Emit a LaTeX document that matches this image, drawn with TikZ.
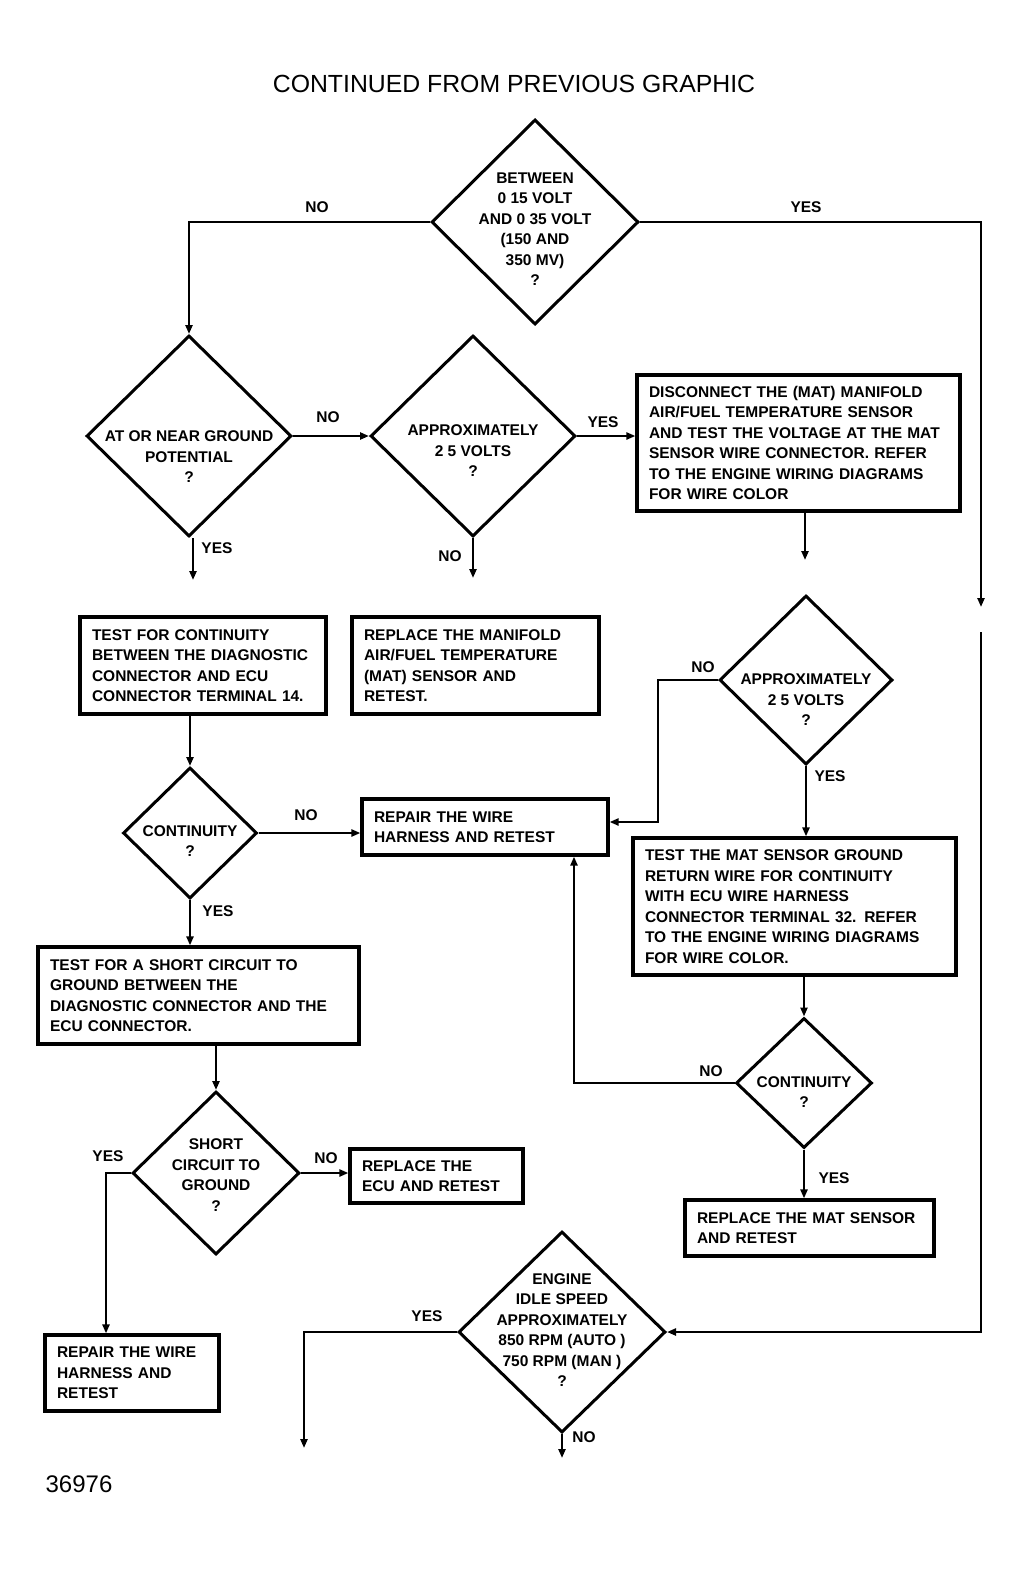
\documentclass[tikz,border=0pt]{standalone}
\usepackage{fontspec}
\setmainfont{Liberation Sans}
\usetikzlibrary{shapes.geometric,arrows.meta}
\newcommand{\flowtext}{\bfseries\fontsize{15.5}{20.5}\selectfont}
\tikzset{
  dia/.style={draw,shape=diamond,line width=3pt,inner sep=0pt},
  dtext/.style={align=center,font=\flowtext,inner sep=0pt},
  box/.style={draw,line width=3.2pt,align=left,font=\flowtext,inner xsep=12pt},
  lbl/.style={font=\flowtext},
  arr/.style={line width=2.8pt,-{Triangle[length=9pt,width=7pt]}}
}
\begin{document}
\begin{tikzpicture}[x=1pt,y=-1pt]
    \useasboundingbox (0,0) rectangle (1026,1576);
    \node[font=\fontsize{24.8}{28}\selectfont] (title) at (514,84) {CONTINUED FROM PREVIOUS GRAPHIC};
    \node[font=\fontsize{24}{28}\selectfont] (fig) at (79,1484) {36976};
    % decisions
    \node[dia,minimum width=207pt,minimum height=205pt] (volt) at (535,222) {};
    \node[dia,minimum width=205pt,minimum height=201pt] (ground) at (189,436) {};
    \node[dia,minimum width=205pt,minimum height=201pt] (approxa) at (473,436) {};
    \node[dia,minimum width=134pt,minimum height=131pt] (conta) at (190,833) {};
    \node[dia,minimum width=167pt,minimum height=163pt] (short) at (216,1173) {};
    \node[dia,minimum width=173pt,minimum height=169pt] (approxb) at (806,680) {};
    \node[dia,minimum width=136pt,minimum height=130pt] (contb) at (804,1083) {};
    \node[dia,minimum width=207pt,minimum height=201pt] (idle) at (562,1332) {};
    \node[dtext] at ([yshift=-7pt]volt) {BETWEEN\\0 15 VOLT\\AND 0 35 VOLT\\(150 AND\\350 MV)\\?};
    \node[dtext] at ([yshift=-21pt]ground) {AT OR NEAR GROUND\\POTENTIAL\\?};
    \node[dtext] at ([yshift=-15pt]approxa) {APPROXIMATELY\\2 5 VOLTS\\?};
    \node[dtext] at ([yshift=-8pt]conta) {CONTINUITY\\?};
    \node[dtext] at ([yshift=-2pt]short) {SHORT\\CIRCUIT TO\\GROUND\\?};
    \node[dtext] at ([yshift=-20pt]approxb) {APPROXIMATELY\\2 5 VOLTS\\?};
    \node[dtext] at ([yshift=-9pt]contb) {CONTINUITY\\?};
    \node[dtext] at ([yshift=2pt]idle) {ENGINE\\IDLE SPEED\\APPROXIMATELY\\850 RPM (AUTO )\\750 RPM (MAN )\\?};
    % actions
    \node[box,text width=299pt,minimum height=136pt] (disc) at (798.5,443)
      {DISCONNECT THE (MAT) MANIFOLD\\AIR/FUEL TEMPERATURE SENSOR\\AND TEST THE VOLTAGE AT THE MAT\\SENSOR WIRE CONNECTOR. REFER\\TO THE ENGINE WIRING DIAGRAMS\\FOR WIRE COLOR};
    \node[box,text width=222pt,minimum height=97pt] (test) at (203,665.5)
      {TEST FOR CONTINUITY\\BETWEEN THE DIAGNOSTIC\\CONNECTOR AND ECU\\CONNECTOR TERMINAL 14.};
    \node[box,text width=223pt,minimum height=97pt] (replmat) at (475.5,665.5)
      {REPLACE THE MANIFOLD\\AIR/FUEL TEMPERATURE\\(MAT) SENSOR AND\\RETEST.};
    \node[box,text width=222pt,minimum height=56pt] (repair) at (485,827)
      {REPAIR THE WIRE\\HARNESS AND RETEST};
    \node[box,text width=297pt,minimum height=97pt] (shortt) at (198.5,995.5)
      {TEST FOR A SHORT CIRCUIT TO\\GROUND BETWEEN THE\\DIAGNOSTIC CONNECTOR AND THE\\ECU CONNECTOR.};
    \node[box,text width=149pt,minimum height=54pt] (ecu) at (436.5,1176)
      {REPLACE THE\\ECU AND RETEST};
    \node[box,text width=150pt,minimum height=76pt] (repairb) at (132,1373)
      {REPAIR THE WIRE\\HARNESS AND\\RETEST};
    \node[box,text width=299pt,minimum height=137pt] (mat) at (794.5,906.5)
      {TEST THE MAT SENSOR GROUND\\RETURN WIRE FOR CONTINUITY\\WITH ECU WIRE HARNESS\\CONNECTOR TERMINAL 32. REFER\\TO THE ENGINE WIRING DIAGRAMS\\FOR WIRE COLOR.};
    \node[box,text width=225pt,minimum height=56pt] (sensor) at (809.5,1228)
      {REPLACE THE MAT SENSOR\\AND RETEST};
    % free ends
    \coordinate (offtop) at (981,607);
    \coordinate (onbot) at (981,632);
    \coordinate (discend) at (805,560);
    \coordinate (groundend) at (193,580);
    \coordinate (approxend) at (472,578);
    \coordinate (yesend) at (304,1448);
    \coordinate (noend) at (564,1458);
    % connectors
    \draw[arr] (volt.west) -| (ground.north);
    \draw[arr] (volt.east) -| (offtop);
    \draw[arr] (onbot) |- (idle.east);
    \draw[arr] (ground.east) -- (approxa.west);
    \draw[arr] (approxa.east) -- (approxa.east -| disc.west);
    \draw[arr] (discend |- disc.south) -- (discend);
    \draw[arr] (groundend |- ground.south) -- (groundend);
    \draw[arr] (approxa.south) -- (approxa.south |- approxend);
    \draw[arr] (conta.north |- test.south) -- (conta.north);
    \draw[arr] (conta.east) -- (conta.east -| repair.west);
    \draw[arr] (conta.south) -- (conta.south |- shortt.north);
    \draw[arr] (short.north |- shortt.south) -- (short.north);
    \draw[arr] (short.east) -- (short.east -| ecu.west);
    \draw[arr] (short.west) -| ([xshift=-26pt]repairb.north);
    \draw[arr] (approxb.west) -- ++(-60,0) |- ([yshift=5pt]repair.east);
    \draw[arr] (approxb.south) -- (approxb.south |- mat.north);
    \draw[arr] (contb.north |- mat.south) -- (contb.north);
    \draw[arr] (contb.west) -| ([xshift=89pt]repair.south);
    \draw[arr] (contb.south) -- (contb.south |- sensor.north);
    \draw[arr] (idle.west) -| (yesend);
    \draw[arr] (idle.south) -- (idle.south |- noend);
    % labels
    \path (317,207) node[lbl]{NO} (806,207) node[lbl]{YES};
    \path (328,417) node[lbl]{NO} (603,422) node[lbl]{YES};
    \path (217,548) node[lbl]{YES} (450,556) node[lbl]{NO};
    \path (306,815) node[lbl]{NO} (218,911) node[lbl]{YES};
    \path (703,667) node[lbl]{NO} (830,776) node[lbl]{YES};
    \path (326,1158) node[lbl]{NO} (108,1156) node[lbl]{YES};
    \path (711,1071) node[lbl]{NO} (834,1178) node[lbl]{YES};
    \path (427,1316) node[lbl]{YES} (584,1437) node[lbl]{NO};
\end{tikzpicture}
\end{document}
